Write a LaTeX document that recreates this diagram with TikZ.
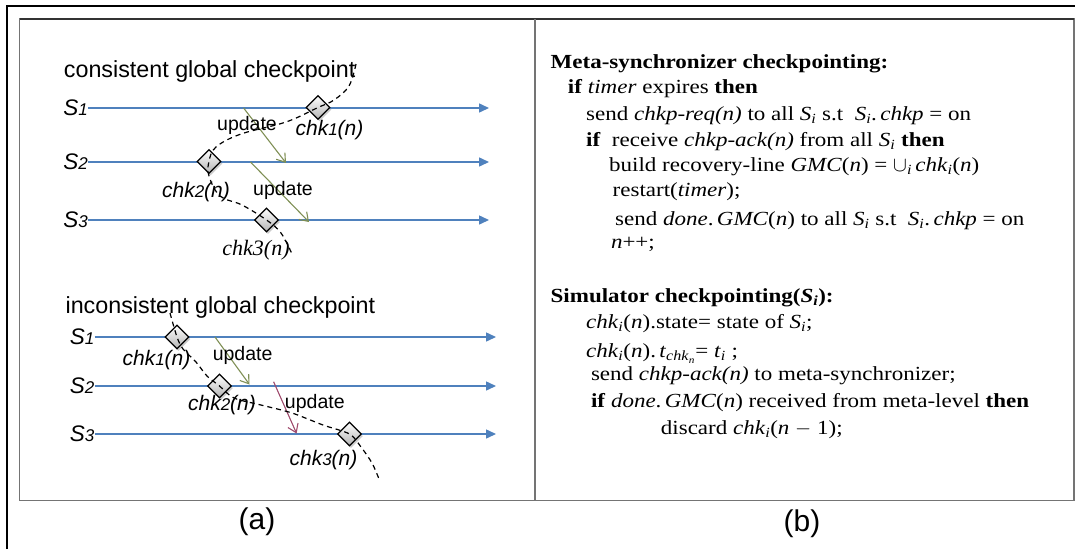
\documentclass[tikz,border=0pt]{standalone}
\usepackage{fontspec}
\setmainfont{Liberation Serif}
\setsansfont{Liberation Sans}
\newfontfamily\tnr[FakeStretch=1.15]{Liberation Serif}
\usetikzlibrary{arrows.meta,shapes.geometric,shadows}
\definecolor{lineblue}{HTML}{4F81BD}
\definecolor{updgreen}{HTML}{7F8F55}
\definecolor{updred}{HTML}{A04C6E}
\definecolor{framegray}{HTML}{747474}
\newcommand{\Slab}[1]{{\itshape S{\fontsize{17}{20}\selectfont #1}}}
\newcommand{\cklabel}[1]{{\itshape chk{\fontsize{17}{20}\selectfont #1}(n)}}
\newcommand{\mi}[1]{\textit{#1}}
\newcommand{\sbi}[1]{\textsubscript{\textit{#1}}}
\tikzset{
  tline/.style={line width=1.5pt, lineblue, -{Triangle[length=10pt,width=9pt]}},
  slab/.style={font=\sffamily\fontsize{22.5}{26}\selectfont, inner sep=0pt, anchor=east},
  ckd/.style={diamond, draw=black, line width=1.2pt, minimum width=24pt, minimum height=24pt,
    inner sep=0pt, top color=white, bottom color=gray!60,
    drop shadow={shadow xshift=1.5pt,shadow yshift=-2pt,opacity=0.4}},
  cklab/.style={font=\sffamily\fontsize{21}{24}\selectfont, inner sep=0pt},
  upd/.style={font=\sffamily\fontsize{19.5}{23}\selectfont, inner sep=0pt},
  recov/.style={black, line width=1.2pt, dash pattern=on 5pt off 4pt},
  uparrow/.style={line width=1.1pt, -{Straight Barb[length=8pt,width=11pt]}},
  ttl/.style={font=\sffamily\fontsize{23.3}{27}\selectfont, inner sep=0pt, anchor=base west},
  capt/.style={font=\sffamily\fontsize{30}{34}\selectfont, inner sep=0pt},
  codeln/.style={font=\tnr\fontsize{20}{24}\selectfont, inner sep=0pt, anchor=base west},
}
\begin{document}
\begin{tikzpicture}[x=1pt,y=-1pt]
\useasboundingbox (0,0) rectangle (1075,549);
% frames
\draw[black, line width=2pt] (6.5,549) -- (6.5,5.7) -- (1075,5.7);
\draw[framegray, line width=1.5pt] (19.7,19) rectangle (1074,500.7);
\draw[black!80, line width=1.5pt] (19.7,19) -- (1074,19);
\draw[framegray, line width=1.5pt] (535,19) -- (535,500.7);

% ---------- consistent ----------
\node[ttl] (t1) at (63.7,77) {consistent global checkpoint};
\node[slab] (s1) at (88,108) {\Slab{1}};
\node[slab] (s2) at (88,162) {\Slab{2}};
\node[slab] (s3) at (88,220) {\Slab{3}};
\coordinate (s1e) at (489,108);
\coordinate (s2e) at (489,162);
\coordinate (s3e) at (489,220);
\draw[tline] (s1.east) -- (s1e);
\draw[tline] (s2.east) -- (s2e);
\draw[tline] (s3.east) -- (s3e);

\coordinate (ua1) at (243.6,108);
\coordinate (ub1) at (286,163);
\coordinate (ua2) at (250.5,162);
\coordinate (ub2) at (309,222);
\draw[uparrow, updgreen] (ua1) -- (ub1);
\draw[uparrow, updgreen] (ua2) -- (ub2);
\node[upd] (u1) at (247,125) {update};
\node[upd] (u2) at (283,190.7) {update};

\node[ckd] (d1) at (318,107.5) {};
\node[ckd] (d2) at (209,161.5) {};
\node[ckd] (d3) at (266.5,220) {};
\node[cklab] (l1) at (329.5,130) {\cklabel{1}};
\node[cklab] (l2) at (196,192) {\cklabel{2}};
\node[inner sep=0pt, font=\rmfamily\itshape\fontsize{22}{26}\selectfont] (l3) at (256,250) {chk3(n)};

\coordinate (p0) at (356,64);
\coordinate (p1) at (349,86);
\coordinate (p2) at (334,100);
\coordinate (p3) at (286,122);
\coordinate (p4) at (241,134);
\coordinate (p5) at (216,147);
\coordinate (p6) at (209,176);
\coordinate (p7) at (220,196);
\coordinate (p8) at (242,205);
\coordinate (p9) at (281,233);
\coordinate (p10) at (292,254);
\draw[recov] plot[smooth, tension=0.6] coordinates {(p0) (p1) (p2) (d1.center) (p3) (p4) (p5) (d2.center) (p6) (p7) (p8) (d3.center) (p9) (p10)};

% ---------- inconsistent ----------
\node[ttl] (t2) at (65.4,313) {inconsistent global checkpoint};
\node[slab] (r1) at (94.5,337) {\Slab{1}};
\node[slab] (r2) at (94.5,386) {\Slab{2}};
\node[slab] (r3) at (94.5,434) {\Slab{3}};
\coordinate (r1e) at (496,337);
\coordinate (r2e) at (496,386);
\coordinate (r3e) at (496,434);
\draw[tline] (r1.east) -- (r1e);
\draw[tline] (r2.east) -- (r2e);
\draw[tline] (r3.east) -- (r3e);

\coordinate (va1) at (215,337);
\coordinate (vb1) at (249.5,384.5);
\coordinate (va2) at (273.6,381.7);
\coordinate (vb2) at (296.6,433.5);
\draw[uparrow, updgreen] (va1) -- (vb1);
\draw[uparrow, updred] (va2) -- (vb2);
\node[upd] (v1) at (242.6,355) {update};
\node[upd] (v2) at (314.8,403.3) {update};

\node[ckd] (e1) at (177,337) {};
\node[ckd] (e2) at (219.5,386) {};
\node[ckd] (e3) at (349.5,434) {};
\node[cklab] (m1) at (156.5,360) {\cklabel{1}};
\node[cklab] (m2) at (222,405) {\cklabel{2}};
\node[cklab] (m3) at (323.5,460) {\cklabel{3}};

\coordinate (q0) at (170,313);
\coordinate (q1) at (183,349);
\coordinate (q2) at (196,362);
\coordinate (q3) at (207,376);
\coordinate (q4) at (234,398);
\coordinate (q5) at (261,405);
\coordinate (q6) at (292,413);
\coordinate (q7) at (323,425);
\coordinate (q8) at (361,447);
\coordinate (q9) at (372,463);
\coordinate (q10) at (379,479);
\draw[recov] plot[smooth, tension=0.5] coordinates {(q0) (e1.center) (q1) (q2) (q3) (e2.center) (q4) (q5) (q6) (q7) (e3.center) (q8) (q9) (q10)};

\node[capt] (ca) at (257,522) {(a)};
\node[capt] (cb) at (802,524) {(b)};

% ---------- right panel ----------
\node[codeln] (a1) at (550.5,68.3) {\textbf{Meta-synchronizer checkpointing:}};
\node[codeln] (a2) at (567.7,93.3) {\textbf{if} \mi{timer} expires \textbf{then}};
\node[codeln] (a3) at (586,120) {send \mi{chkp-req(n)} to all \mi{S}\sbi{i} s.t\ \ \mi{S}\sbi{i}.\,\mi{chkp} = on};
\node[codeln] (a4) at (586,146.7) {\textbf{if}\ \ receive \mi{chkp-ack(n)} from all \mi{S}\sbi{i} \textbf{then}};
\node[codeln] (a5) at (609,171.7) {build recovery-line \mi{GMC}(\mi{n}) = $\cup$\sbi{i}\,\mi{chk}\sbi{i}(\mi{n})};
\node[codeln] (a6) at (612.5,196.7) {restart(\mi{timer});};
\node[codeln] (a7) at (615,225) {send \mi{done}.\,\mi{GMC}(\mi{n}) to all \mi{S}\sbi{i} s.t\ \ \mi{S}\sbi{i}.\,\mi{chkp} = on};
\node[codeln] (a8) at (610.8,248.3) {\mi{n}++;};

\node[codeln] (b1) at (550.5,302.7) {\textbf{Simulator checkpointing(\textit{S}\textsubscript{\textit{i}}):}};
\node[codeln] (b2) at (586,328.5) {\mi{chk}\sbi{i}(\mi{n}).state= state of \mi{S}\sbi{i};};
\node[codeln] (b3) at (586,357.8) {\mi{chk}\sbi{i}(\mi{n}).\,\mi{t}\textsubscript{\textit{chk}\textsubscript{\textit{n}}}= \mi{t}\sbi{i} ;};
\node[codeln] (b4) at (590.8,380) {send \mi{chkp-ack(n)} to meta-synchronizer;};
\node[codeln] (b5) at (590.8,407.7) {\textbf{if} \mi{done}.\,\mi{GMC}(\mi{n}) received from meta-level \textbf{then}};
\node[codeln] (b6) at (660.7,434.6) {discard \mi{chk}\sbi{i}(\mi{n} $-$ 1);};
\end{tikzpicture}
\end{document}
